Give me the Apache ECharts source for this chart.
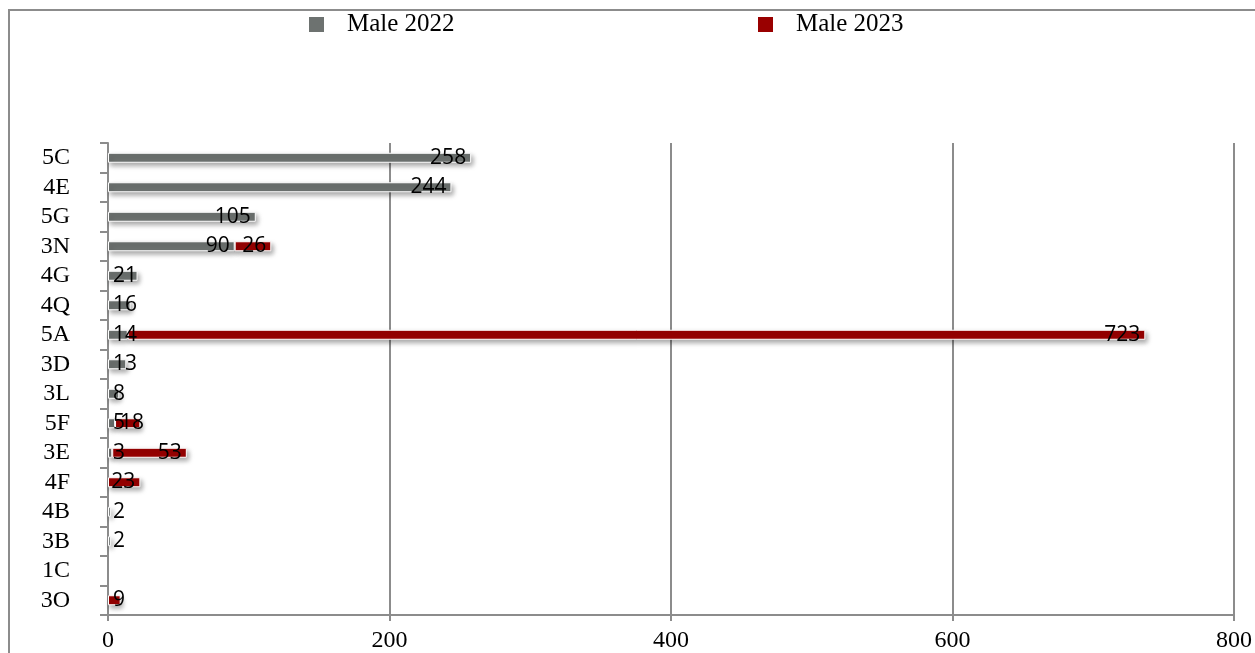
<!DOCTYPE html>
<html>
<head>
<meta charset="utf-8">
<script src="https://cdn.jsdelivr.net/npm/echarts@6/dist/echarts.min.js"></script>
<style>html,body{margin:0;padding:0;background:#fff}#c{width:1255px;height:653px}</style>
</head>
<body>
<div id="c"></div>
<script>
const categories = ['5C','4E','5G','3N','4G','4Q','5A','3D','3L','5F','3E','4F','4B','3B','1C','3O'];
const male2022 = [258, 244, 105, 90, 21, 16, 14, 13, 8, 5, 3, null, 2, 2, null, null];
const male2023 = [null, null, null, 26, null, null, 723, null, null, 18, 53, 23, null, null, null, 9];
const xTicks = [0, 200, 400, 600, 800];

const chart = echarts.init(document.getElementById('c'));
const serif = '"Liberation Serif", "Times New Roman", serif';
const labelFont = '"Open Sans", Lato, sans-serif';

function toData(arr) {
  return arr.map(v => {
    if (v === null) return '-';
    return { value: v, label: { position: v < 22 ? 'insideLeft' : 'insideRight' } };
  });
}

const barCommon = {
  type: 'bar',
  stack: 'total',
  barWidth: 10,
  label: {
    show: true,
    color: '#000',
    fontFamily: labelFont,
    fontSize: 21,
    distance: 5
  },
  emphasis: { disabled: true }
};

const legendCommon = {
  top: 12, padding: 0,
  itemWidth: 17, itemHeight: 17, icon: 'rect',
  textStyle: { fontFamily: serif, fontSize: 25, color: '#000', padding: [0, 0, 0, 17] }
};

chart.setOption({
  animation: false,
  graphic: [{
    type: 'rect',
    shape: { x: 9, y: 10, width: 1400, height: 800 },
    style: { fill: 'none', stroke: '#8c8c8c', lineWidth: 2 },
    silent: true, z: -1
  }],
  legend: [
    Object.assign({ data: ['Male 2022'], left: 307 }, legendCommon),
    Object.assign({ data: ['Male 2023'], left: 756 }, legendCommon)
  ],
  grid: { left: 108, right: 17, top: 143, bottom: 38, containLabel: false },
  xAxis: {
    type: 'value',
    min: xTicks[0], max: xTicks[xTicks.length - 1], interval: 200,
    axisLine: { show: true, lineStyle: { color: '#8c8c8c', width: 2 } },
    axisTick: { show: true, length: 6, lineStyle: { color: '#8c8c8c', width: 2 } },
    splitLine: { show: true, lineStyle: { color: '#8c8c8c', width: 2 } },
    axisLabel: { fontFamily: serif, fontSize: 24, color: '#000', margin: 14,
      formatter: v => xTicks.includes(v) ? String(v) : '' }
  },
  yAxis: {
    type: 'category',
    data: categories,
    inverse: true,
    axisLine: { show: true, lineStyle: { color: '#8c8c8c', width: 2 } },
    axisTick: { show: true, length: 8, interval: 0, lineStyle: { color: '#8c8c8c', width: 2 } },
    axisLabel: { fontFamily: serif, fontSize: 24, color: '#000', margin: 38, interval: 0 }
  },
  series: [
    Object.assign({}, barCommon, {
      name: 'Male 2022',
      data: toData(male2022),
      itemStyle: { color: '#6d7270', borderColor: '#fff', borderWidth: 1,
        shadowColor: 'rgba(0,0,0,0.35)', shadowBlur: 5, shadowOffsetX: 2, shadowOffsetY: 3 }
    }),
    Object.assign({}, barCommon, {
      name: 'Male 2023',
      data: toData(male2023),
      itemStyle: { color: '#990000', borderColor: '#fff', borderWidth: 1,
        shadowColor: 'rgba(0,0,0,0.35)', shadowBlur: 5, shadowOffsetX: 2, shadowOffsetY: 3 }
    })
  ]
});
</script>
</body>
</html>
